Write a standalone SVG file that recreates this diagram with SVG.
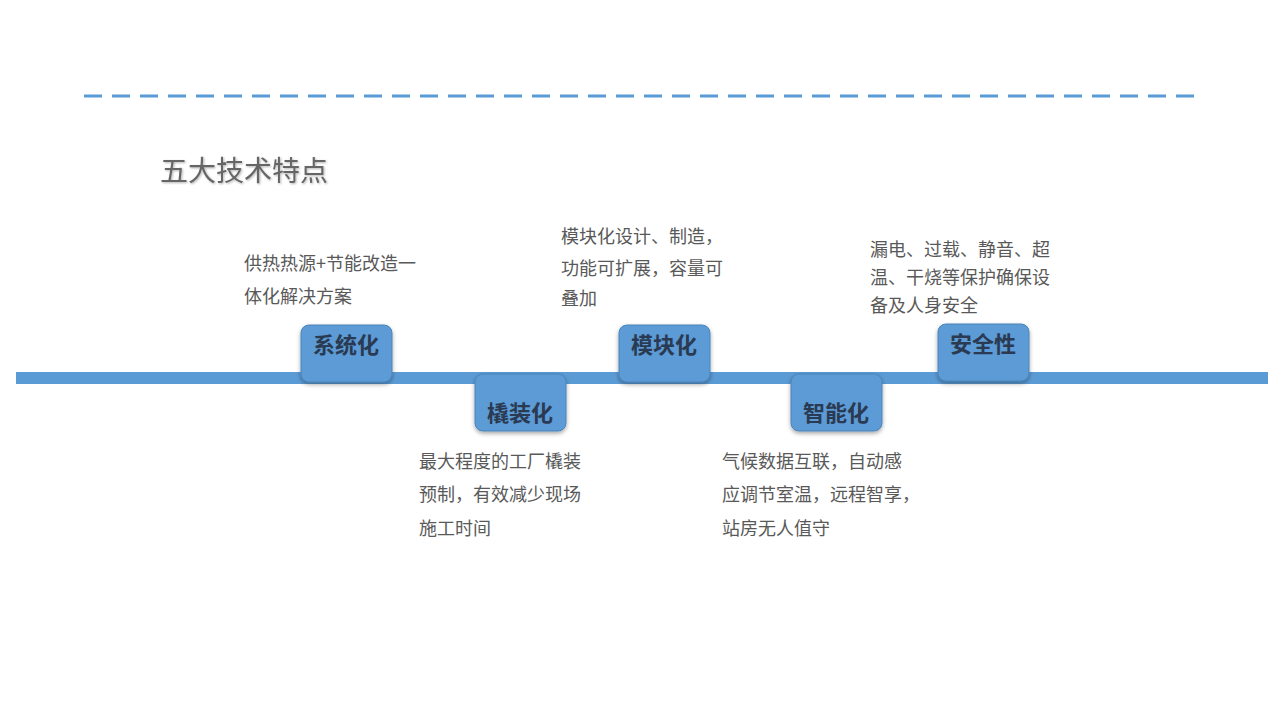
<svg xmlns="http://www.w3.org/2000/svg" width="1280" height="720" viewBox="0 0 1280 720">
<defs>
<style>
.tab{fill:#5b9bd5;stroke:#4a84ba;stroke-width:1}
.tl{font-family:"Noto Sans CJK SC",sans-serif;font-weight:bold;font-size:22px;fill:#2a3a52;text-anchor:middle}
.bd{font-family:"Noto Sans CJK SC",sans-serif;font-size:18px;fill:#595959}
</style>
<filter id="sh" x="-20%" y="-20%" width="140%" height="150%"><feDropShadow dx="0" dy="2" stdDeviation="2" flood-color="#000" flood-opacity="0.35"/></filter>
<filter id="ts"><feDropShadow dx="1" dy="1" stdDeviation="1" flood-color="#000" flood-opacity="0.3"/></filter>
</defs>
<rect width="1280" height="720" fill="#fff"/>
<line x1="84" y1="96" x2="1196" y2="96" stroke="#5b9bd5" stroke-width="3" stroke-dasharray="18 10"/>
<text x="160" y="181" font-family="Noto Sans CJK SC,sans-serif" font-size="28" fill="#666" filter="url(#ts)">五大技术特点</text>
<g id="connectors"><rect x="16" y="372" width="1252" height="12" fill="#5b9bd5"/></g>
<g id="n1"><rect class="tab" filter="url(#sh)" x="301" y="325" width="91" height="57" rx="8"/><text class="tl" x="346" y="353">系统化</text>
<text class="bd" x="244" y="270">供热热源+节能改造一</text><text class="bd" x="244" y="303">体化解决方案</text></g>
<g id="n2"><rect class="tab" filter="url(#sh)" x="475" y="374" width="91" height="57" rx="8"/><text class="tl" x="520" y="421">橇装化</text>
<text class="bd" x="419" y="468">最大程度的工厂橇装</text><text class="bd" x="419" y="501">预制，有效减少现场</text><text class="bd" x="419" y="535">施工时间</text></g>
<g id="n3"><rect class="tab" filter="url(#sh)" x="619" y="325" width="91" height="57" rx="8"/><text class="tl" x="664" y="353">模块化</text>
<text class="bd" x="561" y="243">模块化设计、制造，</text><text class="bd" x="561" y="275">功能可扩展，容量可</text><text class="bd" x="561" y="305">叠加</text></g>
<g id="n4"><rect class="tab" filter="url(#sh)" x="791" y="374" width="91" height="57" rx="8"/><text class="tl" x="836" y="421">智能化</text>
<text class="bd" x="722" y="468">气候数据互联，自动感</text><text class="bd" x="722" y="501">应调节室温，远程智享，</text><text class="bd" x="722" y="535">站房无人值守</text></g>
<g id="n5"><rect class="tab" filter="url(#sh)" x="938" y="324" width="91" height="57" rx="8"/><text class="tl" x="983" y="352">安全性</text>
<text class="bd" x="870" y="256">漏电、过载、静音、超</text><text class="bd" x="870" y="284">温、干烧等保护确保设</text><text class="bd" x="870" y="312">备及人身安全</text></g>
</svg>
